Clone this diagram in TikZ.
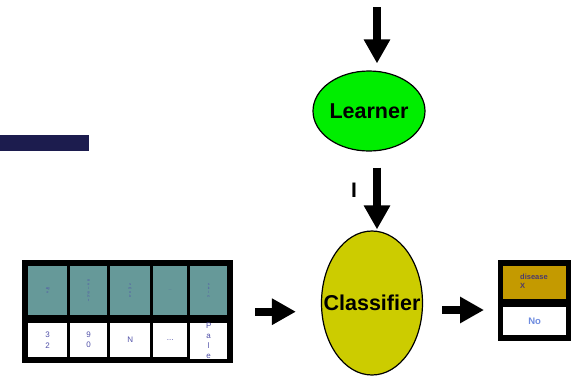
\documentclass[tikz,border=0pt]{standalone}
\usepackage{fontspec}
\setmainfont{Liberation Sans}
\usetikzlibrary{arrows.meta,shapes.geometric}
\definecolor{lawngreen}{RGB}{0, 238, 0}
\definecolor{olivine}{RGB}{204, 204, 0}
\definecolor{slateteal}{RGB}{102, 153, 153}
\definecolor{mustard}{RGB}{196, 154, 0}
\definecolor{midnight}{RGB}{28, 28, 78}
\definecolor{cellblue}{RGB}{80, 80, 168}
\definecolor{noblue}{RGB}{110, 140, 224}
\definecolor{plumtext}{RGB}{75, 58, 110}

\begin{document}
\begin{tikzpicture}[x=1pt, y=-1pt,
    blockarrow/.style={line width=8pt, -{Triangle[width=25pt,length=24pt]}},
    bubble/.style={ellipse, draw=black, line width=1.2pt, inner sep=0pt},
    bubbletext/.style={font=\fontsize{21.5}{24}\selectfont\bfseries, inner sep=0pt},
    cell/.style={rectangle, inner sep=0pt, anchor=north west, align=center, text=cellblue},
    headcell/.style={cell, fill=slateteal, minimum height=49pt, font=\fontsize{3.5}{4}\selectfont},
    valcell/.style={cell, fill=white, minimum height=34pt, font=\fontsize{8}{10}\selectfont}]
            \useasboundingbox (0,0) rectangle (571,376);
            \fill[midnight]                                                        (0,135) rectangle (89,151);
            % learner and classifier
            \node[bubble, fill=lawngreen, minimum width=112pt, minimum height=80pt,
                  label={[bubbletext]center:Learner}]                               (learner)    at (369,111) {};
            \node[bubble, fill=olivine,   minimum width=101pt, minimum height=144pt,
                  label={[bubbletext]center:Classifier}]                            (classifier) at (372,303) {};
            \node[font=\fontsize{21}{21}\selectfont\bfseries]                       (mark)       at (354,190) {I};
            % example record
            \node[fill=black, minimum width=211pt, minimum height=103pt, anchor=north west] (record) at (22,260) {};
            \node[headcell, minimum width=39pt] (h1) at ( 28,266) {ag\\e};
            \node[headcell, minimum width=37pt] (h2) at ( 70,266) {w\\e\\i\\g\\h\\t};
            \node[headcell, minimum width=40pt] (h3) at (110,266) {s\\m\\o\\k};
            \node[headcell, minimum width=34pt] (h4) at (153,266) {...};
            \node[headcell, minimum width=37pt] (h5) at (190,266) {s\\k\\i\\n};
            \node[valcell,  minimum width=39pt] (v1) at ( 28,323) {3\\2};
            \node[valcell,  minimum width=37pt] (v2) at ( 70,323) {9\\0};
            \node[valcell,  minimum width=40pt] (v3) at (110,323) {N};
            \node[valcell,  minimum width=34pt] (v4) at (153,323) {...};
            \node[valcell,  minimum width=37pt] (v5) at (190,323) {P\\a\\l\\e};
            % prediction
            \node[fill=black, minimum width=73pt, minimum height=81pt, anchor=north west] (result) at (498,260) {};
            \node[cell, fill=mustard, minimum width=63pt, minimum height=33pt] (label) at (503,266) {};
            \node[anchor=north west, align=left, inner sep=0pt, text=plumtext, font=\fontsize{7.5}{8.5}\selectfont\bfseries] (labeltext) at (520,274) {disease\\X};
            \node[cell, fill=white, minimum width=63pt, minimum height=28pt, text=noblue, font=\fontsize{9.5}{10}\selectfont\bfseries] (answer) at (503,307) {No};
            % arrows
            \coordinate (input) at (377,7);
            \draw[blockarrow, shorten >=7pt]                 (input) -- (input |- learner.north);
            \draw[blockarrow, shorten <=16pt, shorten >=1pt] (learner.south -| input) -- (classifier.north -| input);
            \draw[blockarrow, shorten <=22pt, shorten >=25pt] (record.east) -- (record.east -| classifier.west);
            \draw[blockarrow, shorten <=19pt, shorten >=14pt] ([yshift=-7pt]classifier.east) -- ([yshift=-7pt]classifier.east -| result.west);
\end{tikzpicture}
\end{document}
